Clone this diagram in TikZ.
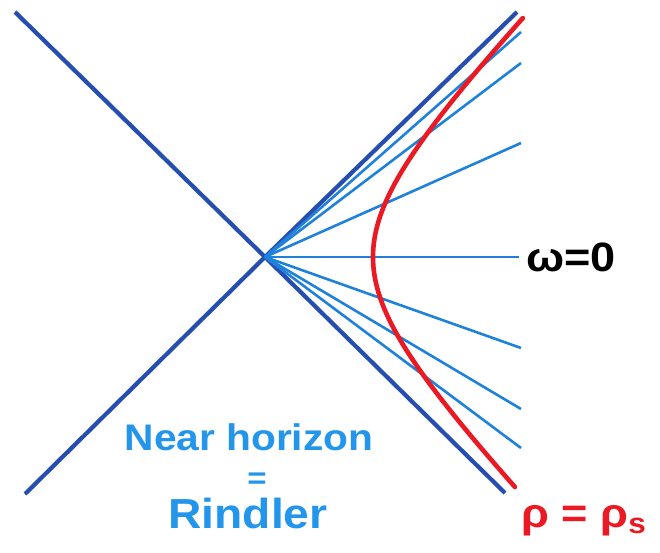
\documentclass[tikz,border=0pt]{standalone}
\usepackage{fontspec}
\setmainfont{Liberation Sans}
\newfontfamily\widesans[FakeStretch=1.1]{Liberation Sans}
\usepackage{tikz}
\usetikzlibrary{positioning}

\definecolor{horizonblue}{RGB}{38,78,176}
\definecolor{rayblue}{RGB}{30,130,220}
\definecolor{textblue}{RGB}{35,150,235}
\definecolor{orbitred}{RGB}{235,25,35}

\tikzset{
  horizon/.style={horizonblue,line width=4.2pt},
  ray/.style={rayblue,line width=2.6pt},
  orbit/.style={orbitred,line width=4.6pt,line cap=round},
  lbl/.style={inner sep=0pt,font=\widesans\bfseries}
}

\begin{document}
\begin{tikzpicture}[x=100pt,y=100pt]
\useasboundingbox (0,0) rectangle (6.60,5.52);
\coordinate (O) at (2.65,2.95);
% the two horizons
\draw[horizon] (0.15,5.40) -- (O) -- (5.05,0.59);
\draw[horizon] (0.25,0.58) -- (O) -- (5.17,5.40);
% lines of constant omega
\foreach \y in {5.20,4.89,4.09,2.04,1.43,1.04}
  \draw[ray] (O) -- (5.21,\y);
\draw[ray] (O) -- (5.19,2.95) coordinate (w0);
\node[lbl,anchor=west,font=\widesans\bfseries\fontsize{41}{43}\selectfont] (omega) at ([xshift=7pt]w0) {ω=0};
% the stretched horizon rho = rho_s
\draw[orbit] plot[domain=-2.30:2.39,samples=80,smooth]
  ({2.65+sqrt(1.08*1.08+0.98*0.98*\x*\x)},{2.95+\x}) coordinate (rs);
\node[lbl,anchor=base west,text=orbitred,font=\widesans\bfseries\fontsize{41}{43}\selectfont] (rho) at (5.21,0.25) {ρ = ρ\textsubscript{s}};
% label
\node[lbl,anchor=base,text=textblue,font=\widesans\bfseries\fontsize{37}{40}\selectfont] (near) at (2.49,1.02) {Near horizon};
\node[lbl,text=textblue,font=\widesans\bfseries\fontsize{30}{32}\selectfont] (eq) at (2.57,0.71) {=};
\node[lbl,anchor=base,text=textblue,font=\widesans\bfseries\fontsize{42}{44}\selectfont] (rindler) at (2.48,0.24) {Rindler};
\end{tikzpicture}
\end{document}
